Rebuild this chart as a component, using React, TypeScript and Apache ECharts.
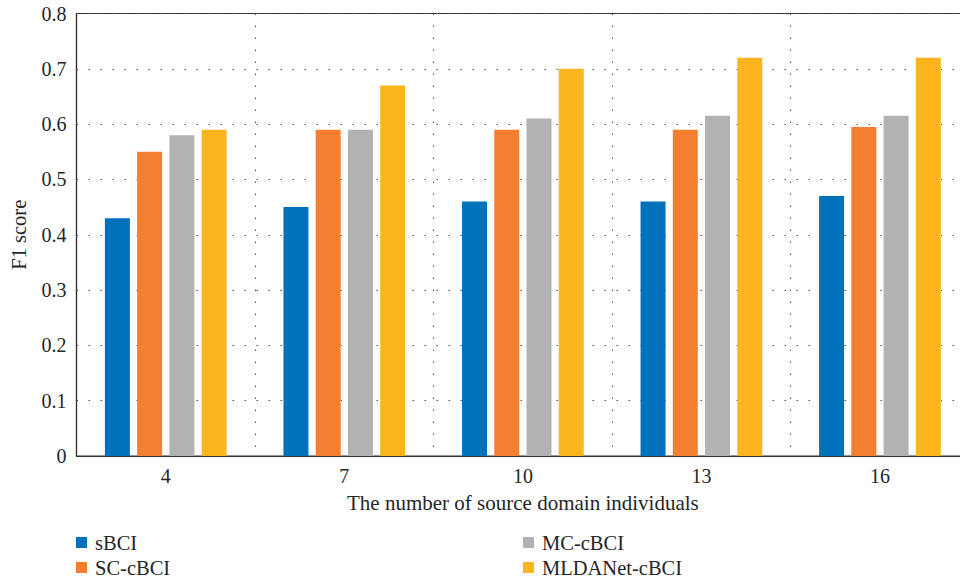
import React, { useEffect, useRef } from "react";
import * as echarts from "echarts";

const categories = ["4", "7", "10", "13", "16"];
const seriesNames = ["sBCI", "SC-cBCI", "MC-cBCI", "MLDANet-cBCI"];
const sBCI = [0.43, 0.45, 0.46, 0.46, 0.47];
const scCBCI = [0.55, 0.59, 0.59, 0.59, 0.595];
const mcCBCI = [0.58, 0.59, 0.61, 0.615, 0.615];
const mldanetCBCI = [0.59, 0.67, 0.7, 0.72, 0.72];
const colors = ["#0072bc", "#f47f30", "#b1b2b4", "#fcb51f"];

const FONT = "'Liberation Serif', 'DejaVu Serif', serif";
const TEXT = "#262626";

// The plotting frame runs past the right edge of the visible area,
// so the chart is drawn wider than the viewport and clipped.
const VIEW_W = 960;
const CHART_W = 980;
const H = 580;

export default function App() {
  const ref = useRef<HTMLDivElement>(null);

  useEffect(() => {
    if (!ref.current) return;
    const chart = echarts.init(ref.current, null, { renderer: "svg" });
    const values = [sBCI, scCBCI, mcCBCI, mldanetCBCI];
    const dotted = { color: "#555", width: 1, type: [1.5, 10.5] as number[] };
    const legendText = {
      fontFamily: FONT,
      fontSize: 20.5,
      color: TEXT,
      lineHeight: 20,
      padding: [0, 0, 0, 3],
    };

    chart.setOption({
      animation: false,
      backgroundColor: "#ffffff",
      textStyle: { fontFamily: FONT },
      grid: {
        left: 76.5,
        top: 13.5,
        right: CHART_W - 969.25,
        bottom: 124,
        show: true,
        borderColor: "#333",
        borderWidth: 1.2,
        backgroundColor: "transparent",
      },
      legend: [
        {
          data: seriesNames.slice(0, 2),
          orient: "vertical",
          left: 76,
          top: 532,
          padding: 0,
          itemWidth: 11,
          itemHeight: 11,
          itemGap: 4,
          icon: "rect",
          textStyle: legendText,
        },
        {
          data: seriesNames.slice(2),
          orient: "vertical",
          left: 523,
          top: 532,
          padding: 0,
          itemWidth: 11,
          itemHeight: 11,
          itemGap: 4,
          icon: "rect",
          textStyle: legendText,
        },
      ],
      xAxis: {
        type: "category",
        data: categories,
        name: "The number of source domain individuals",
        nameLocation: "middle",
        nameGap: 36,
        nameTextStyle: { fontFamily: FONT, fontSize: 21, color: TEXT },
        axisLine: { show: true, lineStyle: { color: "#333", width: 1.2 } },
        axisTick: { show: false },
        axisLabel: { fontFamily: FONT, fontSize: 20, color: TEXT, margin: 10 },
        splitLine: { show: true, lineStyle: dotted },
      },
      yAxis: {
        type: "value",
        min: 0,
        max: 0.8,
        interval: 0.1,
        name: "F1 score",
        nameLocation: "middle",
        nameGap: 47,
        nameTextStyle: { fontFamily: FONT, fontSize: 20.5, color: TEXT },
        axisLine: { show: true, lineStyle: { color: "#333", width: 1.2 } },
        axisTick: { show: false },
        axisLabel: {
          fontFamily: FONT,
          fontSize: 20,
          color: TEXT,
          margin: 10,
          formatter: (v: number) => (v === 0 ? "0" : v.toFixed(1)),
        },
        splitLine: { show: true, lineStyle: dotted },
      },
      series: seriesNames.map((name, i) => ({
        name,
        type: "bar",
        data: values[i],
        barWidth: 25,
        barGap: "29%",
        itemStyle: { color: colors[i] },
      })),
    });

    return () => chart.dispose();
  }, []);

  return (
    <div
      style={{
        position: "absolute",
        left: 0,
        top: 0,
        width: VIEW_W,
        height: H,
        overflow: "hidden",
        background: "#ffffff",
      }}
    >
      <div ref={ref} style={{ width: CHART_W, height: H }} />
    </div>
  );
}
